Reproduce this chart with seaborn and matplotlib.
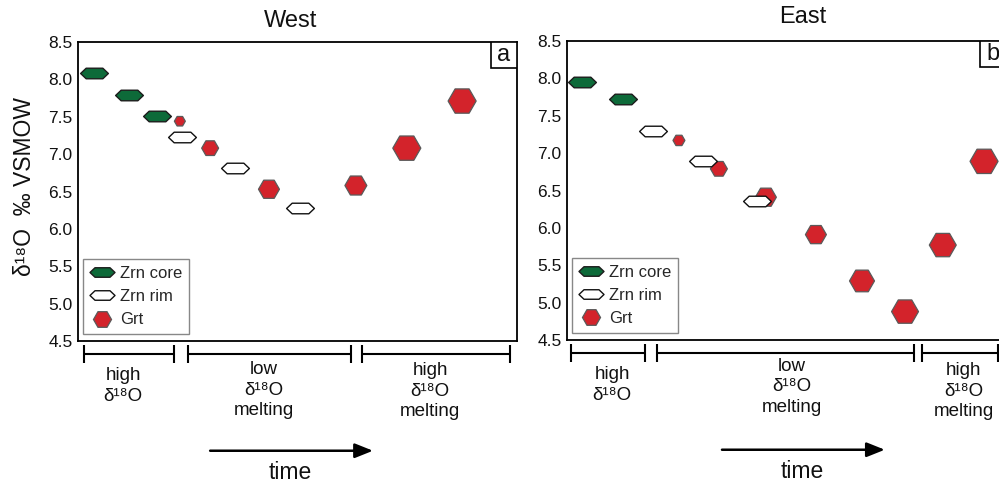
import matplotlib
matplotlib.use("Agg")
import numpy as np
import pandas as pd
import matplotlib.pyplot as plt
import seaborn as sns
from matplotlib.path import Path
from matplotlib.lines import Line2D
from matplotlib.patches import Rectangle

# ---------------- data ----------------
west_core_t = [3.6, 11.6, 18.0]
west_core_d18o = [8.09, 7.79, 7.51]
west_rim_t = [23.7, 35.8, 50.6]
west_rim_d18o = [7.23, 6.81, 6.28]
west_grt_t = [23.2, 30.1, 43.5, 63.3, 74.9, 87.5]
west_grt_d18o = [7.44, 7.08, 6.53, 6.58, 7.08, 7.71]

east_core_t = [3.4, 12.8]
east_core_d18o = [7.95, 7.73]
east_rim_t = [19.6, 31.0, 43.3]
east_rim_d18o = [7.30, 6.89, 6.36]
east_grt_t = [25.5, 34.6, 45.3, 56.7, 67.2, 77.0, 85.6, 95.0]
east_grt_d18o = [7.17, 6.79, 6.41, 5.91, 5.29, 4.88, 5.77, 6.89]

yticks = [4.5, 5.0, 5.5, 6.0, 6.5, 7.0, 7.5, 8.0, 8.5]
ytick_labels = ["4.5", "5.0", "5.5", "6.0", "6.5", "7.0", "7.5", "8.0", "8.5"]
legend_labels = ["Zrn core", "Zrn rim", "Grt"]
titles = ["West", "East"]
panel_letters = ["a", "b"]
ylabel = "\u03b4\u00b9\u2078O  \u2030 VSMOW"
stage_west = [("high\n\u03b4\u00b9\u2078O", 10.3), ("low\n\u03b4\u00b9\u2078O\nmelting", 42.4),
              ("high\n\u03b4\u00b9\u2078O\nmelting", 80.2)]
stage_east = [("high\n\u03b4\u00b9\u2078O", 10.3), ("low\n\u03b4\u00b9\u2078O\nmelting", 51.3),
              ("high\n\u03b4\u00b9\u2078O\nmelting", 90.4)]
time_label = "time"

# ---------------- styles ----------------
grt_sizes_west = [7.9, 12.2, 15.1, 15.8, 20.2, 20.2]
grt_sizes_east = [8.6, 12.2, 15.1, 15.1, 18.0, 19.4, 19.4, 20.2]
zrn_size = 20.0
GREEN = "#0d6a39"
RED = "#d3232b"

zircon_marker = Path([(-1, 0), (-0.6, 0.38), (0.6, 0.38), (1, 0),
                      (0.6, -0.38), (-0.6, -0.38), (-1, 0)],
                     [Path.MOVETO] + [Path.LINETO] * 5 + [Path.CLOSEPOLY])

sns.set_theme(style="white")
plt.rcParams["font.family"] = ["Liberation Sans", "DejaVu Sans"]

fig = plt.figure(figsize=(9.99, 4.86), dpi=100)
W, H = 999, 486
ax_w = fig.add_axes([78 / W, (H - 341) / H, 439 / W, 299 / H])
ax_e = fig.add_axes([567 / W, (H - 340) / H, 439 / W, 299 / H])


def draw_panel(ax, core_t, core_y, rim_t, rim_y, grt_t, grt_y, grt_sizes):
    sns.scatterplot(x=grt_t, y=grt_y, ax=ax, marker="H", s=np.array(grt_sizes) ** 2,
                    color=RED, edgecolor="#5a5a5a", linewidth=0.9, legend=False, zorder=3)
    sns.scatterplot(x=core_t, y=core_y, ax=ax, marker=zircon_marker, s=zrn_size ** 2,
                    color=GREEN, edgecolor="#1c1c1c", linewidth=1.0, legend=False, zorder=4)
    sns.scatterplot(x=rim_t, y=rim_y, ax=ax, marker=zircon_marker, s=zrn_size ** 2,
                    color="white", edgecolor="#111111", linewidth=1.0, legend=False, zorder=4)


draw_panel(ax_w, west_core_t, west_core_d18o, west_rim_t, west_rim_d18o,
           west_grt_t, west_grt_d18o, grt_sizes_west)
draw_panel(ax_e, east_core_t, east_core_d18o, east_rim_t, east_rim_d18o,
           east_grt_t, east_grt_d18o, grt_sizes_east)

handles = [
    Line2D([], [], ls="none", marker=zircon_marker, markersize=18,
           markerfacecolor=GREEN, markeredgecolor="#1c1c1c", markeredgewidth=1.0),
    Line2D([], [], ls="none", marker=zircon_marker, markersize=18,
           markerfacecolor="white", markeredgecolor="#111111", markeredgewidth=1.0),
    Line2D([], [], ls="none", marker="H", markersize=13,
           markerfacecolor=RED, markeredgecolor="#5a5a5a", markeredgewidth=0.9),
]


def stage_bar(ax, x0, x1):
    tr = ax.get_xaxis_transform()
    y, h = -0.042, 0.030
    kw = dict(color="black", lw=1.5, transform=tr, clip_on=False, solid_capstyle="butt")
    ax.plot([x0, x1], [y, y], **kw)
    ax.plot([x0, x0], [y - h, y + h], **kw)
    ax.plot([x1, x1], [y - h, y + h], **kw)


def stage_text(ax, txt, x, ytop):
    tr = ax.get_xaxis_transform()
    ax.text(x, ytop, txt, transform=tr, ha="center", va="top", fontsize=13.5,
            linespacing=1.27, clip_on=False, color="#111111")


def time_arrow(ax, x0, x1, xt):
    tr = ax.get_xaxis_transform()
    ax.annotate("", xy=(x1, -0.367), xytext=(x0, -0.367), xycoords=tr, textcoords=tr,
                annotation_clip=False,
                arrowprops=dict(arrowstyle="-|>,head_length=0.55,head_width=0.22",
                                mutation_scale=20, lw=1.8, color="black",
                                shrinkA=0, shrinkB=0))
    ax.text(xt, -0.440, time_label, transform=tr, ha="center", va="center",
            fontsize=16.5, clip_on=False, color="#111111")


for ax, title, letter, tx, ty in [(ax_w, titles[0], panel_letters[0], 0.485, 1.032),
                                  (ax_e, titles[1], panel_letters[1], 0.538, 1.045)]:
    ax.set_xlim(0, 100)
    ax.set_ylim(4.5, 8.5)
    ax.set_yticks(yticks)
    ax.set_yticklabels(ytick_labels, fontsize=12.5, color="#111111")
    ax.set_xticks([])
    ax.tick_params(axis="y", length=0, pad=4)
    ax.set_xlabel("")
    ax.set_ylabel("")
    for s in ax.spines.values():
        s.set_color("black")
        s.set_linewidth(1.3)
    ax.text(tx, ty, title, transform=ax.transAxes, ha="center", va="bottom",
            fontsize=17, color="#111111")
    ax.add_patch(Rectangle((0.941, 0.913), 0.059, 0.087, transform=ax.transAxes,
                           facecolor="white", edgecolor="black", lw=1.2, zorder=5))
    ax.text(0.9705, 0.9565, letter, transform=ax.transAxes, ha="center", va="center",
            fontsize=17, zorder=6, color="#111111")
    leg = ax.legend(handles, legend_labels, loc="lower left",
                    bbox_to_anchor=(5 / 439, 7 / 299), borderaxespad=0, frameon=True,
                    fancybox=False, edgecolor="#888888", framealpha=1, fontsize=12,
                    handlelength=1.5, handletextpad=0.3, labelspacing=0.5,
                    borderpad=0.4)
    leg.get_frame().set_linewidth(1.0)

ax_w.set_ylabel(ylabel, fontsize=16.5, color="#111111")
ax_w.yaxis.set_label_coords(-0.095, 0.517)

# stages, west
stage_bar(ax_w, 1.4, 21.9)
stage_bar(ax_w, 25.1, 62.2)
stage_bar(ax_w, 64.7, 98.4)
stage_text(ax_w, stage_west[0][0], stage_west[0][1], -0.088)
stage_text(ax_w, stage_west[1][0], stage_west[1][1], -0.068)
stage_text(ax_w, stage_west[2][0], stage_west[2][1], -0.071)
time_arrow(ax_w, 30.1, 67.2, 48.3)

# stages, east
stage_bar(ax_e, 0.9, 17.8)
stage_bar(ax_e, 20.5, 79.0)
stage_bar(ax_e, 80.9, 98.2)
stage_text(ax_e, stage_east[0][0], stage_east[0][1], -0.088)
stage_text(ax_e, stage_east[1][0], stage_east[1][1], -0.060)
stage_text(ax_e, stage_east[2][0], stage_east[2][1], -0.074)
time_arrow(ax_e, 35.3, 72.4, 53.5)

fig.savefig("out.png", dpi=100, facecolor="white")
